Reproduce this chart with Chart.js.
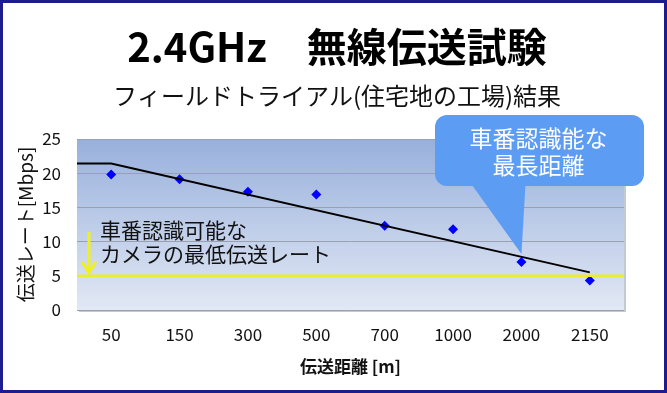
<!DOCTYPE html>
<html>
<head>
<meta charset="utf-8">
<script src="https://cdn.jsdelivr.net/npm/chart.js@4.4.1/dist/chart.umd.min.js"></script>
<style>
    html, body { margin: 0; padding: 0; background: #fff; }
    canvas { display: block; }
</style>
</head>
<body>
<canvas id="chart" width="667" height="393"></canvas>
<script>
// 伝送距離 (カテゴリ) と 実測レート
const distances = ['50', '150', '300', '500', '700', '1000', '2000', '2150'];
const rates = [19.8, 19.1, 17.3, 16.9, 12.3, 11.8, 7.0, 4.3];
// 近似線 (カテゴリ番号, Mbps)
const trendPos = [-0.5, 0, 7];
const trendRates = [21.4, 21.4, 5.5];
// 最低伝送レート
const minRatePos = [-0.5, 7.5];
const minRate = [5, 5];
const yTicks = [0, 5, 10, 15, 20, 25];
const calloutIndex = 6; // 2000m

const FONT = '"Noto Sans CJK JP", "Noto Sans", sans-serif';

const decoPlugin = {
    id: 'deco',
    beforeDraw(chart) {
        const ctx = chart.ctx;
        const a = chart.chartArea;
        ctx.save();
        ctx.fillStyle = '#fff';
        ctx.fillRect(0, 0, chart.width, chart.height);
        // 外枠
        ctx.strokeStyle = '#1c1c8c';
        ctx.lineWidth = 3;
        ctx.strokeRect(1.5, 1.5, chart.width - 3, chart.height - 3);
        // タイトル
        ctx.fillStyle = '#000';
        ctx.textAlign = 'center';
        ctx.textBaseline = 'middle';
        ctx.font = 'bold 40px ' + FONT;
        ctx.fillText('2.4GHz　無線伝送試験', 337, 47);
        ctx.fillStyle = '#111';
        ctx.font = '24px ' + FONT;
        ctx.fillText('フィールドトライアル(住宅地の工場)結果', 337, 96);
        // プロットエリアの影とグラデーション
        ctx.fillStyle = '#c4c8d0';
        ctx.fillRect(a.left + 2, a.top + 2, a.width, a.height);
        const g = ctx.createLinearGradient(0, a.top, 0, a.bottom);
        g.addColorStop(0, '#98b0dc');
        g.addColorStop(1, '#e2e8f4');
        ctx.fillStyle = g;
        ctx.fillRect(a.left, a.top, a.width, a.height);
        ctx.restore();
    },
    afterDraw(chart) {
        const ctx = chart.ctx;
        const a = chart.chartArea;
        const xs = chart.scales.x, ys = chart.scales.y;
        ctx.save();

        // 最低伝送レートの説明
        ctx.fillStyle = '#111';
        ctx.font = '21px ' + FONT;
        ctx.textBaseline = 'middle';
        ctx.textAlign = 'left';
        ctx.fillText('車番認識可能な', a.left + 23, 230);
        ctx.fillText('カメラの最低伝送レート', a.left + 23, 254);

        // 黄色の矢印
        const ax = a.left + 12;
        const ayEnd = ys.getPixelForValue(minRate[0]) - 3;
        ctx.strokeStyle = '#f0f020';
        ctx.lineWidth = 3;
        ctx.beginPath();
        ctx.moveTo(ax, 232);
        ctx.lineTo(ax, ayEnd);
        ctx.stroke();
        ctx.beginPath();
        ctx.moveTo(ax - 7, ayEnd - 11);
        ctx.lineTo(ax, ayEnd);
        ctx.lineTo(ax + 7, ayEnd - 11);
        ctx.stroke();

        // 吹き出し
        const px = xs.getPixelForValue(calloutIndex);
        const py = ys.getPixelForValue(rates[calloutIndex]) - 8;
        const bx = 435, by = 115, bw = 209, bh = 71, r = 12;
        ctx.fillStyle = '#5c9cf2';
        ctx.beginPath();
        ctx.roundRect(bx, by, bw, bh, r);
        ctx.fill();
        ctx.beginPath();
        ctx.moveTo(472, by + bh - 1);
        ctx.lineTo(px + 4, by + bh - 1);
        ctx.lineTo(px, py);
        ctx.closePath();
        ctx.fill();
        ctx.fillStyle = '#fff';
        ctx.font = '23px ' + FONT;
        ctx.textAlign = 'center';
        ctx.fillText('車番認識能な', bx + bw / 2 - 1, by + 23);
        ctx.fillText('最長距離', bx + bw / 2 - 1, by + 50);

        ctx.restore();
    }
};

new Chart(document.getElementById('chart'), {
    type: 'scatter',
    data: {
        datasets: [
            {
                label: '最低伝送レート',
                data: minRatePos.map((x, i) => ({x: x, y: minRate[i]})),
                showLine: true,
                borderColor: '#ecec2a',
                borderWidth: 2.5,
                pointRadius: 0
            },
            {
                label: '近似',
                data: trendPos.map((x, i) => ({x: x, y: trendRates[i]})),
                showLine: true,
                borderColor: '#000',
                borderWidth: 2,
                pointRadius: 0
            },
            {
                label: '伝送レート',
                data: rates.map((v, i) => ({x: i, y: v})),
                pointStyle: 'rectRot',
                pointRadius: 5,
                backgroundColor: '#0000ff',
                borderColor: '#0000ff',
                borderWidth: 0
            }
        ]
    },
    options: {
        responsive: false,
        animation: false,
        layout: {
            padding: {left: 10, right: 43, bottom: 12, top: 139}
        },
        scales: {
            x: {
                type: 'linear',
                min: -0.5,
                max: 7.5,
                afterBuildTicks: (scale) => {
                    scale.ticks = distances.map((d, i) => ({value: i}));
                },
                afterFit: (scale) => { scale.height = 71; },
                grid: {display: false, drawTicks: false},
                border: {display: false},
                ticks: {
                    callback: (v) => distances[v],
                    color: '#111',
                    font: {family: FONT, size: 17},
                    padding: 14,
                    maxRotation: 0
                },
                title: {
                    display: true,
                    text: '伝送距離 [m]',
                    color: '#111',
                    font: {family: FONT, size: 17, weight: 'bold'},
                    padding: {top: 4}
                }
            },
            y: {
                min: 0,
                max: 25,
                afterBuildTicks: (scale) => {
                    scale.ticks = yTicks.map(v => ({value: v}));
                },
                afterFit: (scale) => { scale.width = 67; },
                grid: {color: '#9aa0b0', drawTicks: false},
                border: {display: false},
                ticks: {
                    color: '#111',
                    font: {family: FONT, size: 17},
                    padding: 16
                },
                title: {
                    display: true,
                    text: '伝送レート[Mbps]',
                    color: '#111',
                    font: {family: FONT, size: 19},
                    padding: {bottom: 2}
                }
            }
        },
        plugins: {
            legend: {display: false},
            tooltip: {enabled: false}
        }
    },
    plugins: [decoPlugin]
});
</script>
</body>
</html>
